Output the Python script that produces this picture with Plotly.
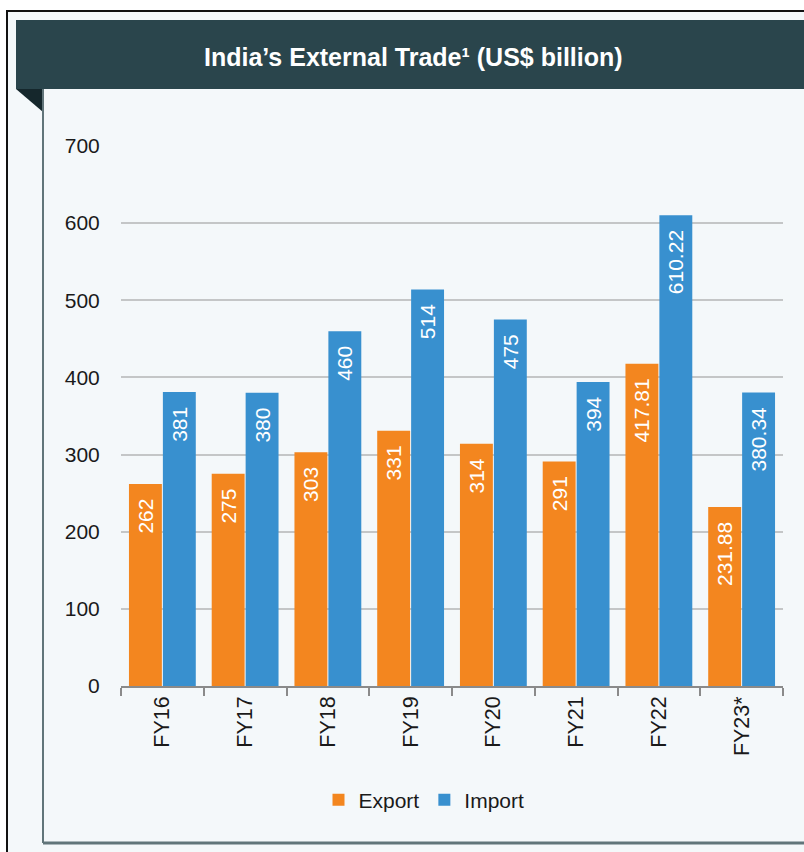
import plotly.graph_objects as go

categories = ["FY16", "FY17", "FY18", "FY19", "FY20", "FY21", "FY22", "FY23*"]
export_vals = [262, 275, 303, 331, 314, 291, 417.81, 231.88]
import_vals = [381, 380, 460, 514, 475, 394, 610.22, 380.34]
y_ticks = [0, 100, 200, 300, 400, 500, 600, 700]

W, H = 804, 852
L, R, T, B = 121, 21, 146, 166
PW, PH = W - L - R, H - T - B

def px(x):
    return (x - L) / PW

def py(y):
    return (H - B - y) / PH

FONT = "Arial, Liberation Sans, sans-serif"
ORANGE = "#F3861F"
BLUE = "#3890CF"
PAD = "\u00a0\u00a0"

fig = go.Figure()
fig.add_trace(go.Bar(
    name="Export", x=categories, y=export_vals,
    text=[f"{v:g}" + PAD for v in export_vals],
    textposition="inside", insidetextanchor="end", textangle=-90,
    textfont=dict(color="white", size=21, family=FONT),
    marker=dict(color=ORANGE, line=dict(width=0)),
    cliponaxis=False,
))
fig.add_trace(go.Bar(
    name="Import", x=categories, y=import_vals,
    text=[f"{v:g}" + PAD for v in import_vals],
    textposition="inside", insidetextanchor="end", textangle=-90,
    textfont=dict(color="white", size=21, family=FONT),
    marker=dict(color=BLUE, line=dict(width=0)),
    cliponaxis=False,
))

shapes = [
    # outer frame
    dict(type="rect", xref="paper", yref="paper", x0=px(7), x1=px(812), y0=py(11), y1=py(862),
         line=dict(color="#111111", width=2), fillcolor="#F4F8FA", layer="below"),
    # header bar
    dict(type="rect", xref="paper", yref="paper", x0=px(16), x1=px(812), y0=py(20), y1=py(89),
         line=dict(width=0), fillcolor="#2A454C", layer="below"),
    # fold triangle
    dict(type="path", xref="paper", yref="paper",
         path=f"M {px(16)} {py(89)} L {px(43)} {py(89)} L {px(43)} {py(112)} Z",
         line=dict(width=0), fillcolor="#15272C", layer="below"),
    # inner panel left border
    dict(type="line", xref="paper", yref="paper", x0=px(43), x1=px(43), y0=py(89), y1=py(843),
         line=dict(color="#61757A", width=2), layer="below"),
    # inner panel bottom border
    dict(type="line", xref="paper", yref="paper", x0=px(43), x1=px(812), y0=py(843), y1=py(843),
         line=dict(color="#61757A", width=3), layer="below"),
]

fig.update_layout(
    width=W, height=H,
    margin=dict(l=L, r=R, t=T, b=B, pad=0),
    paper_bgcolor="white",
    plot_bgcolor="rgba(0,0,0,0)",
    font=dict(family=FONT, size=21, color="#1A1A1A"),
    barmode="group", bargap=0.18, bargroupgap=0.03,
    showlegend=True,
    legend=dict(orientation="h", x=px(424), xanchor="center", y=py(800), yanchor="middle",
                font=dict(size=21, color="#1A1A1A", family=FONT), bgcolor="rgba(0,0,0,0)",
                itemwidth=30, traceorder="normal"),
    shapes=shapes,
    annotations=[dict(
        text="India’s External Trade¹ (US$ billion)", xref="paper", yref="paper",
        x=px(413), y=py(57), xanchor="center", yanchor="middle", showarrow=False,
        font=dict(family=FONT, size=25, color="white", weight="bold"),
    )],
    xaxis=dict(
        type="category", showgrid=False, showline=True, linecolor="#8A8A8A", linewidth=1.5,
        ticks="outside", tickson="boundaries", ticklen=8, tickwidth=1.5, tickcolor="#8A8A8A",
        tickangle=-90, tickfont=dict(size=21.5, color="#1A1A1A"),
        zeroline=False, fixedrange=True,
    ),
    yaxis=dict(
        range=[0, 700], tickvals=y_ticks, showgrid=True, gridcolor="#C4C6C7", gridwidth=1.5,
        showline=False, zeroline=False, ticks="outside", ticklen=16, tickcolor="rgba(0,0,0,0)",
        tickfont=dict(size=21, color="#1A1A1A"), fixedrange=True,
    ),
)

fig.write_html("out.html")
